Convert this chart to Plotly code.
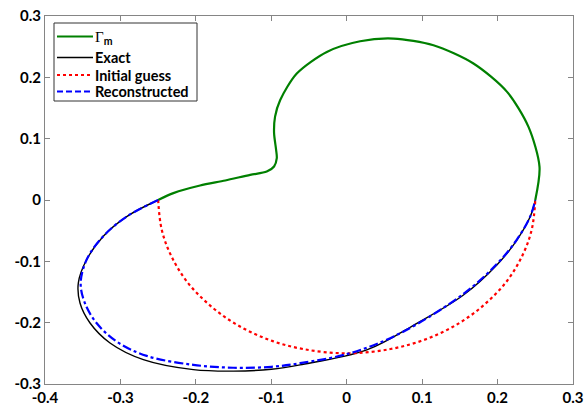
import plotly.graph_objects as go

# ---- data ----
green_x = [-0.25, -0.2298, -0.1944, -0.161, -0.128, -0.106, -0.0963, -0.0927, -0.0936,
           -0.0963, -0.095, -0.0883, -0.0662, -0.0264, 0.0178, 0.062, 0.115, 0.168,
           0.2123, 0.241, 0.2556, 0.25]
green_y = [0.0, 0.0112, 0.0236, 0.0318, 0.041, 0.0464, 0.0546, 0.0682, 0.0818,
           0.109, 0.136, 0.1627, 0.2062, 0.2414, 0.2588, 0.2632, 0.2523, 0.2225,
           0.1767, 0.1192, 0.0541, 0.0]

exact_x = [-0.25, -0.2917, -0.3227, -0.3447, -0.3558, -0.3536, -0.3403, -0.3138, -0.2696,
           -0.2033, -0.15, -0.1, -0.0618, 0.0266, 0.093, 0.1548, 0.199, 0.2256, 0.2432, 0.25]
exact_y = [0.0, -0.027, -0.059, -0.097, -0.135, -0.168, -0.2005, -0.2331, -0.2603,
           -0.2766, -0.279, -0.276, -0.2688, -0.2445, -0.201, -0.1549, -0.106, -0.0653,
           -0.0274, 0.0]

guess_x = [-0.25, -0.2455, -0.2335, -0.2125, -0.183, -0.1475, -0.105, -0.058, 0.0,
           0.058, 0.105, 0.1475, 0.183, 0.2125, 0.2335, 0.2455, 0.25]
guess_y = [0.0, -0.047, -0.089, -0.132, -0.170, -0.202, -0.227, -0.243, -0.25,
           -0.243, -0.227, -0.202, -0.170, -0.132, -0.089, -0.047, 0.0]

recon_x = [-0.25, -0.2917, -0.3227, -0.3447, -0.3527, -0.347, -0.3314, -0.3049, -0.2651,
           -0.2033, -0.15, -0.1, -0.0618, 0.0045, 0.0708, 0.1548, 0.199, 0.2256, 0.2432, 0.25]
recon_y = [0.0, -0.027, -0.059, -0.097, -0.1358, -0.1684, -0.201, -0.2309, -0.2542,
           -0.2688, -0.2735, -0.272, -0.2661, -0.2498, -0.2173, -0.153, -0.1045, -0.0645,
           -0.027, 0.0]

x_ticks = [-0.4, -0.3, -0.2, -0.1, 0, 0.1, 0.2, 0.3]
x_tick_labels = ["-0.4", "-0.3", "-0.2", "-0.1", "0", "0.1", "0.2", "0.3"]
y_ticks = [-0.3, -0.2, -0.1, 0, 0.1, 0.2, 0.3]
y_tick_labels = ["-0.3", "-0.2", "-0.1", "0", "0.1", "0.2", "0.3"]

legend_names = ['<span style="font-family:Liberation Serif;font-weight:normal">Γ</span><sub>m</sub>',
                "Exact", "Initial guess", "Reconstructed"]
colors = ["#008000", "black", "#ff0000", "#0000ff"]
widths = [2.2, 1.4, 2.2, 2.2]
dashes = ["solid", "solid", "dot", "dashdot"]
legend_dashes = ["solid", "solid", "dot", "6px,3px"]

FONT = "Lato"
W, H = 585, 410
ML, MR, MT, MB = 45, 12, 16, 26
PW, PH = W - ML - MR, H - MT - MB


def px_x(p):
    return (p - ML) / PW


def px_y(p):
    return (H - MB - p) / PH


fig = go.Figure()
series = [(green_x, green_y), (exact_x, exact_y), (guess_x, guess_y), (recon_x, recon_y)]
for i, (xs, ys) in enumerate(series):
    fig.add_trace(go.Scatter(x=xs, y=ys, mode="lines", name=legend_names[i], showlegend=False,
                             line=dict(color=colors[i], width=widths[i], dash=dashes[i],
                                       shape="spline", smoothing=0.8 if i == 0 else 1)))

axis_common = dict(showline=True, linecolor="#858585", linewidth=1, mirror="ticks",
                   ticks="inside", ticklen=5, tickcolor="#858585", showgrid=False,
                   zeroline=False, automargin=False,
                   tickfont=dict(family=FONT, size=15, color="black", weight="bold"))

fig.update_xaxes(range=[-0.4, 0.3], tickvals=x_ticks, ticktext=x_tick_labels, **axis_common)
fig.update_yaxes(range=[-0.3, 0.3], tickvals=y_ticks, ticktext=y_tick_labels, **axis_common)

# ---- legend box drawn by hand (MATLAB style, compact rows) ----
shapes = [dict(type="rect", xref="paper", yref="paper",
               x0=px_x(54), x1=px_x(197), y0=px_y(101), y1=px_y(23),
               line=dict(color="#333333", width=1), fillcolor="white", layer="above")]
annotations = []
row_y = [36.5, 57.5, 75, 91.5]
text_y = [37.5, 57.5, 75, 91.5]
for i in range(4):
    shapes.append(dict(type="line", xref="paper", yref="paper",
                       x0=px_x(57), x1=px_x(93), y0=px_y(row_y[i]), y1=px_y(row_y[i]),
                       line=dict(color=colors[i], width=widths[i], dash=legend_dashes[i]),
                       layer="above"))
    annotations.append(dict(xref="paper", yref="paper", x=px_x(94), y=px_y(text_y[i]),
                            xanchor="left", yanchor="middle", showarrow=False, borderpad=0,
                            text=legend_names[i],
                            font=dict(family=FONT, size=15 if i == 0 else 14.5, color="black",
                                      weight="bold")))

fig.update_layout(
    width=W, height=H,
    margin=dict(l=ML, r=MR, t=MT, b=MB, autoexpand=False),
    plot_bgcolor="white", paper_bgcolor="white",
    font=dict(family=FONT, size=14, color="black"),
    showlegend=False,
    shapes=shapes,
    annotations=annotations,
)

fig.write_html("out.html")
